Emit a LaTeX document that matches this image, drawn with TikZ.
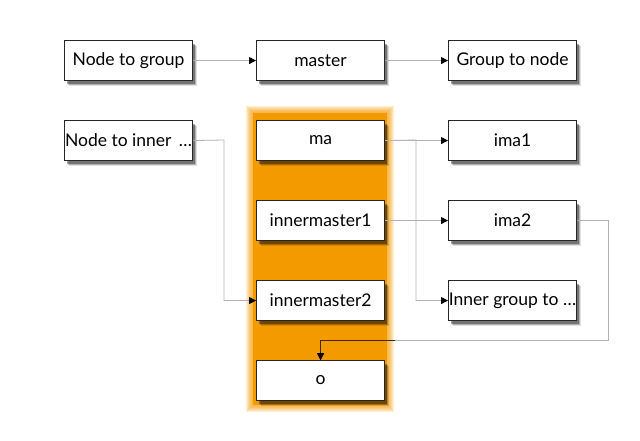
\documentclass[tikz,border=0pt]{standalone}
\usepackage{fontspec}
\setmainfont{Lato}
\usetikzlibrary{arrows.meta,shadows}
\definecolor{grp}{HTML}{F39A00}
\begin{document}
\begin{tikzpicture}[x=1pt,y=-1pt,
  box/.style={draw=black!85, line width=1.1pt, fill=white, minimum width=128pt,
    minimum height=40pt, inner sep=0pt, anchor=north west,
    font=\fontsize{17.5}{20}\selectfont,
    drop shadow={shadow xshift=4pt, shadow yshift=-5pt, fill=black, opacity=0.12},
    drop shadow={shadow xshift=3pt, shadow yshift=-4pt, fill=black, opacity=0.2},
    drop shadow={shadow xshift=2pt, shadow yshift=-3pt, fill=black, opacity=0.35}},
  conn/.style={draw=black!30, line width=0.8pt},
  darkconn/.style={draw=black!75!grp, line width=0.8pt},
  tip/.style={-{Triangle[length=7pt,width=7pt,black]}}]
\useasboundingbox (0,0) rectangle (640,440);
% group background
\fill[grp] (253,113) rectangle (387,405);
\foreach \d in {1,...,7}{
  \fill[grp, fill opacity=0.16] (253-\d,113-\d) rectangle (387+\d,405+\d);
}
% nodes
\node[box] (n2g) at (64,40) {Node to group};
\node[box] (master) at (256,40) {master};
\node[box] (g2n) at (448,40) {Group to node};
\node[box] (n2i) at (64,120) {Node to inner \,…};
\node[box] (ma) at (256,120) {ma};
\node[box] (ima1) at (448,120) {ima1};
\node[box] (im1) at (256,200) {innermaster1};
\node[box] (ima2) at (448,200) {ima2};
\node[box] (im2) at (256,280) {innermaster2};
\node[box] (igt) at (448,280) {Inner group to …};
\node[box] (o) at (256,360) {o};
% bend points
\coordinate (j1) at (224,140);
\coordinate (j2) at (416,140);
\coordinate (j3) at (608,340);
% connectors
\draw[conn,tip] (n2g.east) -- (master.west);
\draw[conn,tip] (master.east) -- (g2n.west);
\draw[conn,tip] (n2i.east) -- (j1) |- (im2.west);
\draw[conn,tip] (ma.east) -- (ima1.west);
\draw[conn,tip] (ma.east) -- (j2) |- (igt.west);
\draw[conn,tip] (im1.east) -- (ima2.west);
\draw[conn,tip] (ima2.east) -| (j3) -| (o.north);
\begin{scope}
  \clip (245,105) rectangle (395,413);
  \draw[darkconn,tip] (ima2.east) -| (j3) -| (o.north);
\end{scope}
\end{tikzpicture}
\end{document}
